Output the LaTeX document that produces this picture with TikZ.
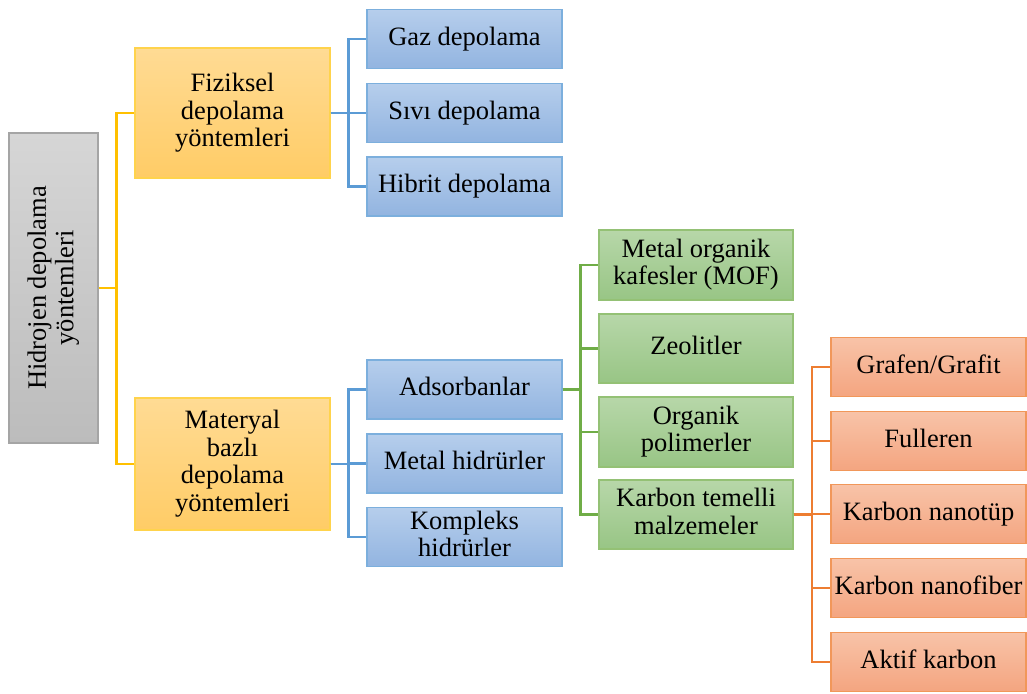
\documentclass[tikz,border=0pt]{standalone}
\usepackage{fontspec}
\setmainfont{Liberation Serif}
\usetikzlibrary{calc}
\definecolor{ylw}{HTML}{FFC000}
\definecolor{ylwTop}{HTML}{FFDB94}
\definecolor{ylwBot}{HTML}{FFCC66}
\definecolor{blu}{HTML}{5B9BD5}
\definecolor{bluTop}{HTML}{B6CEEC}
\definecolor{bluBot}{HTML}{92B4E0}
\definecolor{grn}{HTML}{70AD47}
\definecolor{grnTop}{HTML}{B7D7A9}
\definecolor{grnBot}{HTML}{98C585}
\definecolor{org}{HTML}{ED7D31}
\definecolor{orgTop}{HTML}{F8C3A8}
\definecolor{orgBot}{HTML}{F4A580}
\definecolor{gry}{HTML}{A5A5A5}
\definecolor{gryTop}{HTML}{D6D6D6}
\definecolor{gryBot}{HTML}{BCBCBC}
% box text: fixed line pitch, and a uniform strut on every line
\newcommand\boxfont{\fontsize{26.5}{27.5}\selectfont
  \lineskiplimit=-100pt\relax\lineskip=0pt\relax}
\newcommand\linestrut{\rule[-6pt]{0pt}{23pt}}
\newcommand\brk{\\\linestrut}
\tikzset{
  box/.style={rectangle, inner sep=2pt, align=center, line width=1.3pt,
    font=\boxfont, text=black, execute at begin node=\linestrut},
  rootbox/.style={box, draw=gry, top color=gryTop, bottom color=gryBot,
    minimum width=310pt, minimum height=89pt, rotate=90},
  ybox/.style={box, draw=ylw!70, top color=ylwTop, bottom color=ylwBot,
    minimum width=195pt},
  bbox/.style={box, draw=blu!80, top color=bluTop, bottom color=bluBot,
    minimum width=195pt, minimum height=59pt},
  gbox/.style={box, draw=grn!75, top color=grnTop, bottom color=grnBot,
    minimum width=194pt},
  obox/.style={box, draw=org!80, top color=orgTop, bottom color=orgBot,
    minimum width=195pt, minimum height=59pt},
  link/.style={line width=2.8pt},
  ylink/.style={link, draw=ylw},
  blink/.style={link, draw=blu},
  glink/.style={link, draw=grn},
  olink/.style={link, draw=org},
}
\begin{document}
\begin{tikzpicture}[x=1pt, y=-1pt]
\useasboundingbox (0,0) rectangle (1027,693);

% root
\node[rootbox] (root) at (53.5,288) {Hidrojen depolama\brk yöntemleri};

% first level
\node[ybox, minimum height=130pt] (fiz) at (232.5,113) {Fiziksel\brk depolama\brk yöntemleri};
\node[ybox, minimum height=132pt] (mat) at (232.5,464) {Materyal\brk bazlı\brk depolama\brk yöntemleri};

% physical storage
\node[bbox] (gaz) at (464.5,39) {Gaz depolama};
\node[bbox] (sivi) at (464.5,113) {Sıvı depolama};
\node[bbox] (hib) at (464.5,186.5) {Hibrit depolama};

% material based storage
\node[bbox] (ads) at (464.5,389.5) {Adsorbanlar};
\node[bbox] (met) at (464.5,463.5) {Metal hidrürler};
\node[bbox] (kom) at (464.5,537) {Kompleks\brk hidrürler};

% adsorbents
\node[gbox, minimum height=70pt] (mof) at (696,265) {Metal organik\brk kafesler (MOF)};
\node[gbox, minimum height=69pt] (zeo) at (696,348.5) {Zeolitler};
\node[gbox, minimum height=70pt] (orgp) at (696,432) {Organik\brk polimerler};
\node[gbox, minimum height=69pt] (kar) at (696,514.5) {Karbon temelli\brk malzemeler};

% carbon based materials
\node[obox] (gra) at (928.5,367) {Grafen/Grafit};
\node[obox] (ful) at (928.5,441) {Fulleren};
\node[obox] (cnt) at (928.5,514) {Karbon nanotüp};
\node[obox] (cnf) at (928.5,588) {Karbon nanofiber};
\node[obox] (akt) at (928.5,662) {Aktif karbon};

% connectors: elbow through the midpoint of the gap
\foreach \c in {fiz,mat}
  \draw[ylink] (root.south) -| ($(root.south)!.5!(\c.west)$) |- (\c.west);
\foreach \c in {gaz,sivi,hib}
  \draw[blink] (fiz.east) -| ($(fiz.east)!.5!(\c.west)$) |- (\c.west);
\foreach \c in {ads,met,kom}
  \draw[blink] (mat.east) -| ($(mat.east)!.5!(\c.west)$) |- (\c.west);
\foreach \c in {mof,zeo,orgp,kar}
  \draw[glink] (ads.east) -| ($(ads.east)!.5!(\c.west)$) |- (\c.west);
\foreach \c in {gra,ful,cnt,cnf,akt}
  \draw[olink] (kar.east) -| ($(kar.east)!.5!(\c.west)$) |- (\c.west);
\end{tikzpicture}
\end{document}
